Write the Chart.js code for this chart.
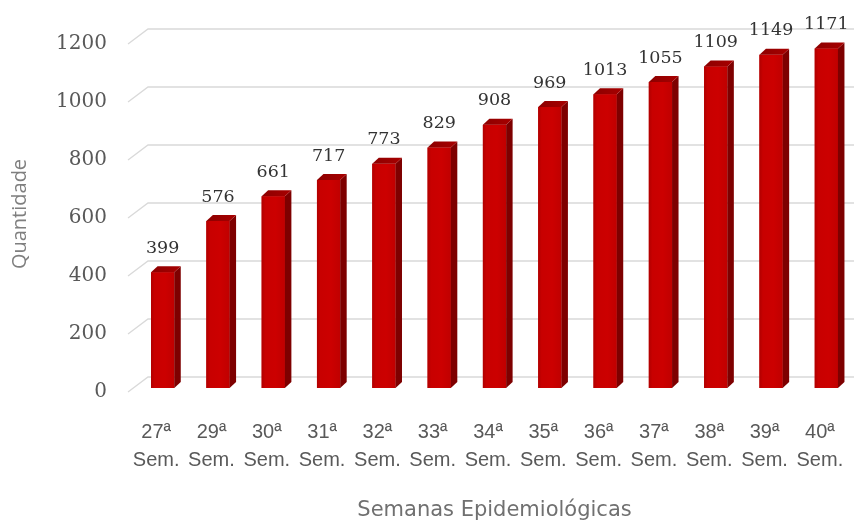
<!DOCTYPE html>
<html>
<head>
<meta charset="utf-8">
<script src="https://cdn.jsdelivr.net/npm/chart.js@4.4.0/dist/chart.umd.min.js"></script>
<style>
  body { margin: 0; background: #fff; }
  canvas { display: block; }
</style>
</head>
<body>
<canvas id="chart" width="854" height="525"></canvas>
<script>
// semanas epidemiologicas e casos acumulados
const categories = ['27ª Sem.', '29ª Sem.', '30ª Sem.', '31ª Sem.', '32ª Sem.', '33ª Sem.', '34ª Sem.',
  '35ª Sem.', '36ª Sem.', '37ª Sem.', '38ª Sem.', '39ª Sem.', '40ª Sem.'];
const values = [399, 576, 661, 717, 773, 829, 908, 969, 1013, 1055, 1109, 1149, 1171];
const yTicks = [0, 200, 400, 600, 800, 1000, 1200];

const DEPTH_X = 6.5;
const DEPTH_Y = 6;

// fake 3d walls: side slant + back wall line for each tick
const wallGrid = {
  id: 'wallGrid',
  beforeDatasetsDraw(chart) {
    const { ctx, chartArea, scales } = chart;
    ctx.save();
    ctx.strokeStyle = '#d9d9d9';
    ctx.lineWidth = 1.3;
    yTicks.forEach(v => {
      const y = scales.y.getPixelForValue(v);
      ctx.beginPath();
      ctx.moveTo(chartArea.left - 7, y + 4);
      ctx.lineTo(chartArea.left + 13, y - 11);
      ctx.lineTo(chart.width, y - 11);
      ctx.stroke();
    });
    ctx.restore();
  }
};

const bars3d = {
  id: 'bars3d',
  afterDatasetsDraw(chart) {
    const { ctx } = chart;
    const meta = chart.getDatasetMeta(0);
    ctx.save();
    meta.data.forEach((bar, i) => {
      const { x, y, base, width } = bar.getProps(['x', 'y', 'base', 'width'], true);
      const l = x - width / 2, r = x + width / 2;

      // front shading
      const g = ctx.createLinearGradient(l, 0, r, 0);
      g.addColorStop(0, '#b00000');
      g.addColorStop(0.15, '#c80000');
      g.addColorStop(0.6, '#cc0000');
      g.addColorStop(1, '#c00000');
      ctx.fillStyle = g;
      ctx.fillRect(l, y, width, base - y);

      // side
      ctx.fillStyle = '#7e0000';
      ctx.beginPath();
      ctx.moveTo(r, y);
      ctx.lineTo(r + DEPTH_X, y - DEPTH_Y);
      ctx.lineTo(r + DEPTH_X, base - DEPTH_Y);
      ctx.lineTo(r, base);
      ctx.closePath();
      ctx.fill();

      // top
      const gt = ctx.createLinearGradient(l, 0, r + DEPTH_X, 0);
      gt.addColorStop(0, '#8c0000');
      gt.addColorStop(1, '#a80000');
      ctx.fillStyle = gt;
      ctx.beginPath();
      ctx.moveTo(l, y);
      ctx.lineTo(l + DEPTH_X, y - DEPTH_Y);
      ctx.lineTo(r + DEPTH_X, y - DEPTH_Y);
      ctx.lineTo(r, y);
      ctx.closePath();
      ctx.fill();

      // value label
      ctx.fillStyle = '#333333';
      ctx.font = '17.5px "DejaVu Serif"';
      ctx.textAlign = 'center';
      ctx.textBaseline = 'middle';
      ctx.fillText(String(values[i]), x, y - 24);
    });
    ctx.restore();
  }
};

Chart.defaults.font.family = '"Open Sans"';

new Chart(document.getElementById('chart'), {
  type: 'bar',
  data: {
    labels: categories,
    datasets: [{
      data: values,
      backgroundColor: '#c80000',
      barPercentage: 0.42,
      categoryPercentage: 1
    }]
  },
  options: {
    responsive: false,
    animation: false,
    layout: { padding: { top: 38, right: 0, bottom: 0, left: 0 } },
    plugins: {
      legend: { display: false },
      tooltip: { enabled: false }
    },
    scales: {
      x: {
        grid: { display: false, drawTicks: false },
        border: { display: false },
        ticks: {
          padding: 30,
          labelOffset: -6.5,
          maxRotation: 0,
          autoSkip: false,
          color: '#595959',
          font: { family: '"Liberation Sans"', size: 20, lineHeight: 1.4 },
          callback: function (v, i) { return categories[i].split(' '); }
        },
        title: {
          display: true,
          text: 'Semanas Epidemiológicas',
          color: '#707070',
          font: { family: '"DejaVu Sans"', size: 21, lineHeight: 1.2 },
          padding: { top: 0, bottom: 2 }
        },
        afterFit(scale) {
          scale.height = 137;
          scale.paddingLeft = 0;
          scale.paddingRight = 0;
        }
      },
      y: {
        min: 0,
        max: 1200,
        grid: { display: false, drawTicks: false },
        border: { display: false },
        ticks: {
          stepSize: 200,
          padding: 28,
          labelOffset: 4,
          color: '#595959',
          font: { family: '"DejaVu Serif"', size: 20 },
          callback: v => String(v)
        },
        title: {
          display: true,
          text: 'Quantidade',
          color: '#7f7f7f',
          font: { size: 20, lineHeight: 1.2 },
          padding: { top: 8, bottom: 0 }
        },
        afterFit(scale) { scale.width = 135; }
      }
    }
  },
  plugins: [wallGrid, bars3d]
});
</script>
</body>
</html>
